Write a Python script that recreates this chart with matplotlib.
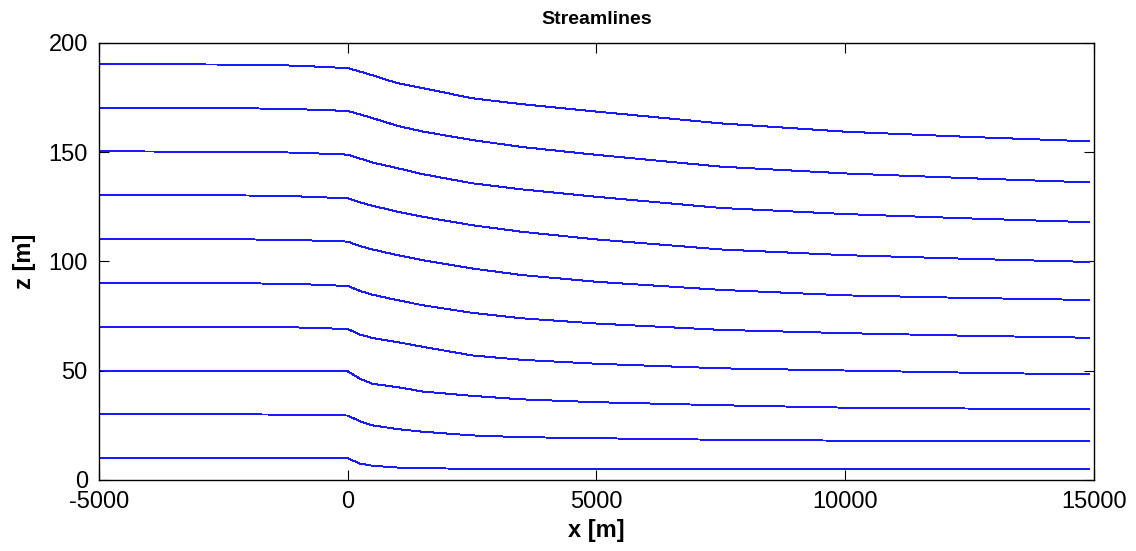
import numpy as np
import matplotlib
matplotlib.use("Agg")
import matplotlib.pyplot as plt

plt.rcParams['font.family'] = ['Liberation Sans', 'DejaVu Sans']
plt.rcParams['axes.unicode_minus'] = False

# sample positions along the flow (m)
x_pts = [-5000, -2000, -1000, 0, 250, 500, 1000, 1500, 2500, 3500,
         5000, 7500, 10000, 12500, 14900]

# elevation of each streamline at x_pts (m), top to bottom
z_190 = [190.3, 190.1, 189.6, 188.5, 186.9, 185.2, 181.6, 179.4, 174.7, 172.0, 168.6, 163.2, 159.4, 157.0, 155.0]
z_170 = [170.2, 170.1, 169.7, 168.9, 167.3, 165.6, 162.1, 159.5, 155.6, 152.4, 148.8, 143.4, 140.3, 138.1, 136.2]
z_150 = [150.4, 150.2, 149.8, 148.9, 147.1, 145.3, 142.7, 140.0, 135.8, 133.0, 129.6, 124.5, 121.7, 119.7, 118.0]
z_130 = [130.3, 130.2, 129.8, 128.9, 127.0, 125.5, 122.8, 120.5, 116.6, 113.6, 110.1, 105.5, 102.9, 101.2, 99.8]
z_110 = [110.2, 110.1, 109.8, 109.1, 107.0, 105.5, 102.9, 100.6, 96.8, 93.8, 90.7, 87.0, 84.5, 83.3, 82.4]
z_90 = [90.1, 90.0, 89.7, 88.8, 86.5, 84.8, 82.3, 80.0, 76.5, 74.0, 71.6, 68.7, 67.2, 66.0, 65.1]
z_70 = [70.1, 70.0, 69.8, 69.1, 66.5, 65.0, 63.1, 61.0, 57.0, 55.0, 53.2, 51.1, 50.1, 49.1, 48.3]
z_50 = [50.1, 50.0, 49.9, 49.7, 46.3, 44.0, 42.5, 40.5, 38.5, 36.9, 35.6, 34.2, 33.1, 32.7, 32.4]
z_30 = [30.0, 30.0, 29.9, 29.5, 26.8, 25.0, 23.3, 22.1, 20.4, 19.6, 19.1, 18.4, 18.0, 17.9, 17.9]
z_10 = [9.9, 9.9, 9.9, 9.9, 7.5, 6.5, 5.7, 5.4, 5.1, 5.0, 5.0, 4.9, 4.9, 4.9, 4.9]

streamlines = [z_190, z_170, z_150, z_130, z_110, z_90, z_70, z_50, z_30, z_10]

x_ticks = [-5000, 0, 5000, 10000, 15000]
z_ticks = [0, 50, 100, 150, 200]

fig = plt.figure(figsize=(11.36, 5.51), dpi=100)
ax = fig.add_axes([0.0871, 0.1289, 0.8759, 0.7931])

for z in streamlines:
    ax.plot(x_pts, z, color=(0.1, 0.1, 1.0), lw=0.7, antialiased=False)

ax.set_xlim(-5000, 15000)
ax.set_ylim(0, 200)
ax.set_xticks(x_ticks)
ax.set_yticks(z_ticks)
ax.tick_params(direction='in', top=True, right=True, length=7.5, width=0.8,
               labelsize=17)
ax.tick_params(axis='x', pad=8)
ax.tick_params(axis='y', pad=8)
for s in ax.spines.values():
    s.set_linewidth(1.0)

ax.set_title('Streamlines', fontsize=14, fontweight='bold', pad=14)
ax.set_xlabel('x [m]', fontsize=17, fontweight='bold', labelpad=4)
ax.set_ylabel('z [m]', fontsize=17, fontweight='bold', labelpad=9)

fig.savefig('out.png', dpi=100)
